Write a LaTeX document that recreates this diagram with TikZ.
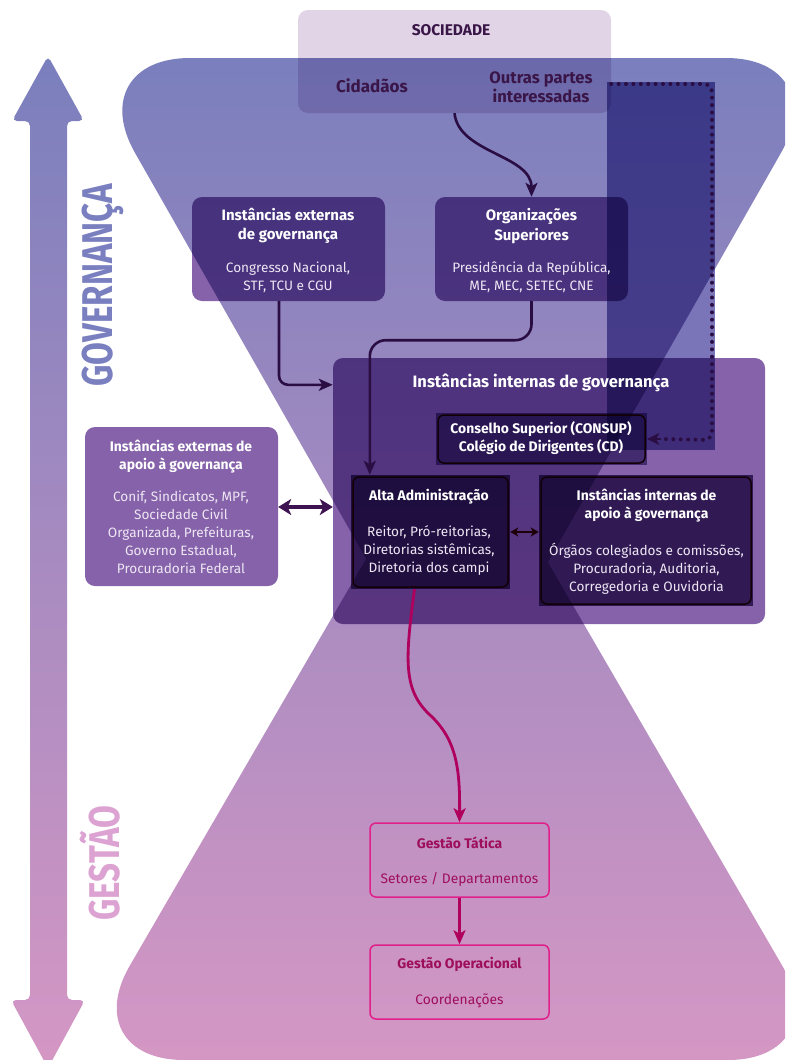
\documentclass[tikz,border=0pt]{standalone}
\usepackage{fontspec}
\setmainfont{Fira Sans}
\usetikzlibrary{arrows.meta}
\definecolor{gtop}{HTML}{7A7FBD}
\definecolor{gbot}{HTML}{D597C4}
\definecolor{socf}{HTML}{E1D4E7}
\definecolor{colm}{HTML}{7A74B8}
\definecolor{boxp}{HTML}{8562A9}
\definecolor{boxc}{HTML}{8270A8}
\definecolor{boxd}{HTML}{5E4580}
\definecolor{dk}{HTML}{2A0D42}
\definecolor{dbl}{HTML}{3E1352}
\definecolor{mag}{HTML}{B0005E}
\definecolor{magl}{HTML}{E0208A}
\definecolor{magt}{HTML}{9E0E5A}
\definecolor{soct}{HTML}{3A1648}
\definecolor{govc}{HTML}{7A7FBF}
\definecolor{gesc}{HTML}{DCA2D2}
\definecolor{txtl}{HTML}{EEE6F4}
\tikzset{
  mbox/.style={draw=none, rounded corners=10pt, inner sep=0pt},
  sqbox/.style={draw=none, inner sep=0pt},
  edgebox/.style={draw=black!90!purple, line width=1.5pt, rounded corners=6pt},
  ttl/.style={text=white, align=center, font=\fontsize{15}{19.5}\selectfont\bfseries, inner sep=0pt},
  sttl/.style={text=white, align=center, font=\fontsize{13.9}{18}\selectfont\bfseries, inner sep=0pt},
  bdy/.style={text=txtl, align=center, font=\fontsize{13.6}{18}\selectfont, inner sep=0pt},
  gttl/.style={text=magt, align=center, font=\fontsize{13.9}{18}\selectfont\bfseries, inner sep=0pt},
  gbdy/.style={text=magt, align=center, font=\fontsize{13.8}{18}\selectfont, inner sep=0pt},
  dkarrow/.style={draw=dk, line width=2.6pt, -{Stealth[length=14pt,width=12pt,inset=3.5pt]}},
  dblarrow/.style={draw=dbl, line width=3.5pt, {Stealth[length=13pt,width=16pt,inset=3.5pt]}-{Stealth[length=13pt,width=16pt,inset=3.5pt]}},
  smallarrow/.style={draw=black!85!purple, line width=2.4pt, {Stealth[length=8pt,width=9pt,inset=2pt]}-{Stealth[length=8pt,width=9pt,inset=2pt]}},
  magarrow/.style={draw=mag, line width=2.8pt, -{Stealth[length=14pt,width=12pt,inset=3.5pt]}},
  dotline/.style={draw=dk, line width=4pt, line cap=round, dash pattern=on 0pt off 7.4pt},
  gbox/.style={draw=magl, line width=1.5pt, rounded corners=6pt, inner sep=0pt, minimum width=179, minimum height=74},
}
\begin{document}
\begin{tikzpicture}[x=1pt,y=-1pt]
\useasboundingbox (0,0) rectangle (785,1060);
\clip (0,0) rectangle (785,1060);
% left double arrow
\begin{scope}
\clip[rounded corners=5pt] (48,56) -- (84,121) -- (67,121) -- (67,1000) -- (85,1000) -- (48,1068) -- (11,1000) -- (30,1000) -- (30,121) -- (12,121) -- cycle;
\shade[top color=gtop, bottom color=gbot] (0,57) rectangle (785,1066);
\end{scope}
% hourglass
\begin{scope}
\clip[rounded corners=109pt] (81,58) -- (835,58) -- (458,720) -- cycle;
\shade[top color=gtop, bottom color=gbot] (0,57) rectangle (785,1066);
\end{scope}
\begin{scope}
\clip[rounded corners=109pt] (456,404) -- (837,1060) -- (75,1060) -- cycle;
\shade[top color=gtop, bottom color=gbot] (0,57) rectangle (785,1066);
\end{scope}
% side words
\node[rotate=90, text=govc, font=\fontsize{43}{43}\selectfont\bfseries, inner sep=0pt] (gov) at (103,285) {\scalebox{0.77}[1]{GOVERNANÇA}};
\node[rotate=90, text=gesc, font=\fontsize{43}{43}\selectfont\bfseries, inner sep=0pt] (ges) at (100,863) {\scalebox{0.77}[1]{GESTÃO}};
% multiplied boxes
\begin{scope}[blend mode=multiply]
\node[mbox, fill=socf, minimum width=313, minimum height=103] (soc) at (454.5,61.5) {};
\node[sqbox, fill=colm, minimum width=108, minimum height=368] (colbar) at (661,266) {};
\node[mbox, fill=boxp, minimum width=193, minimum height=104] (extgov) at (288.5,249) {};
\node[mbox, fill=boxp, minimum width=193, minimum height=104] (org) at (531.5,249) {};
\node[mbox, fill=boxp, minimum width=432, minimum height=266] (intbox) at (549,491) {};
\node[mbox, fill=boxp, minimum width=193, minimum height=159] (extsup) at (181.5,506.5) {};
\node[sqbox, fill=boxc, minimum width=211, minimum height=52] (consup) at (541.5,439) {};
\node[sqbox, fill=boxd, minimum width=159, minimum height=114] (alta) at (430.5,532) {};
\node[sqbox, fill=boxd, minimum width=214, minimum height=131] (apoio) at (646,540.5) {};
\end{scope}
% borders of inner boxes
\draw[edgebox] (438,415) rectangle (645,463);
\draw[edgebox] (353,477) rectangle (508,587);
\draw[edgebox] (541,477) rectangle (751,604);
% gestao boxes
\node[gbox] (gt) at (459.5,860) {};
\node[gbox] (go) at (459.5,982) {};
% connectors
\draw[dkarrow] (soc.south) .. controls +(4,40) and +(0,-42) .. (org.north);
\draw[dkarrow, rounded corners=9pt] ([xshift=-9.5pt]extgov.south) |- ([yshift=-27pt]intbox.north west);
\draw[dkarrow, rounded corners=16pt] (org.south) -- ++(0,39) -| ([xshift=19pt]alta.north west);
\draw[dblarrow] (extsup.east |- 0,507) -- (intbox.west |- 0,507);
\draw[smallarrow] (alta.east |- 0,532) -- (apoio.west |- 0,532);
\draw[dotline, rounded corners=8pt] (soc.east |- 0,84) -- (712,84) -- (712,440) -- ([xshift=14pt]consup.east);
\draw[draw=dk, line width=2pt, -{Stealth[length=12pt,width=12pt,inset=3pt]}] ([xshift=14pt]consup.east) -- (consup.east);
\draw[magarrow] ([xshift=-16pt]alta.south) .. controls (405,660) and (403,690) .. (430,715) .. controls (457,740) and (460,770) .. (gt.north);
\draw[magarrow] (gt.south) -- (go.north);
% texts
\node[text=soct, font=\fontsize{15.5}{15}\selectfont\bfseries, inner sep=0pt] (tsoc) at (451,30) {SOCIEDADE};
\node[text=soct, font=\fontsize{17}{17}\selectfont\bfseries, inner sep=0pt] (tcid) at (372,86) {Cidadãos};
\node[text=soct, align=center, font=\fontsize{16.6}{19}\selectfont\bfseries, inner sep=0pt] (tout) at (541,87.5) {Outras partes\\interessadas};
\node[ttl] (t1) at (288,226) {Instâncias externas\\de governança};
\node[bdy] (b1) at (288,277) {Congresso Nacional,\\STF, TCU e CGU};
\node[ttl] (t2) at (531.5,226) {Organizações\\Superiores};
\node[bdy] (b2) at (531.5,277) {Presidência da República,\\ME, MEC, SETEC, CNE};
\node[ttl, font=\fontsize{16.5}{19}\selectfont\bfseries] (t3) at (541,383) {Instâncias internas de governança};
\node[sttl] (t4) at (541,438) {Conselho Superior (CONSUP)\\Colégio de Dirigentes (CD)};
\node[sttl] (t5) at (429,496.5) {Alta Administração};
\node[bdy] (b5) at (429,550) {Reitor, Pró-reitorias,\\Diretorias sistêmicas,\\Diretoria dos campi};
\node[sttl] (t6) at (646.5,506) {Instâncias internas de\\apoio à governança};
\node[bdy] (b6) at (646.5,568.5) {Órgãos colegiados e comissões,\\Procuradoria, Auditoria,\\Corregedoria e Ouvidoria};
\node[sttl] (t7) at (181,456.5) {Instâncias externas de\\apoio à governança};
\node[bdy] (b7) at (181,532.5) {Conif, Sindicatos, MPF,\\Sociedade Civil\\Organizada, Prefeituras,\\Governo Estadual,\\Procuradoria Federal};
\node[gttl] (t8) at (459.5,843) {Gestão Tática};
\node[gbdy] (b8) at (459.5,879) {Setores / Departamentos};
\node[gttl] (t9) at (459.5,964) {Gestão Operacional};
\node[gbdy] (b9) at (459.5,1001) {Coordenações};
\end{tikzpicture}
\end{document}
